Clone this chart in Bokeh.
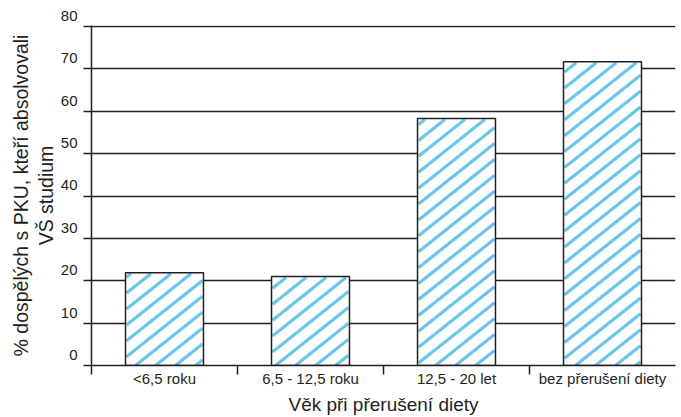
import numpy as np
from bokeh.plotting import figure
from bokeh.models import FixedTicker, Range1d
from bokeh.embed import file_html
from bokeh.resources import INLINE

# ---- data ----
categories = ["<6,5 roku", "6,5 - 12,5 roku", "12,5 - 20 let", "bez přerušení diety"]
values = [21.9, 21.0, 58.3, 71.7]
y_ticks = [0, 10, 20, 30, 40, 50, 60, 70, 80]
y_tick_labels = ["0", "10", "20", "30", "40", "50", "60", "70", "80"]
x_title = "Věk při přerušení diety"
y_title = "% dospělých s PKU, kteří absolvovali\nVŠ studium"

# ---- style / layout ----
FONT = "Liberation Sans"
INK = "#231f20"
BLUE = "#6cc5ee"
W, H = 681, 417
B_LEFT, B_RIGHT, B_TOP, B_BOTTOM = 91, 6, 25, 50
BAR_W = 0.534
Y_END = y_ticks[-1] + 0.25   # tiny headroom so the top grid line is drawn

n = len(categories)
x = np.arange(n) + 0.5

p = figure(width=W, height=H, output_backend="svg", toolbar_location=None,
           x_range=Range1d(0, n), y_range=Range1d(0, Y_END),
           min_border_left=B_LEFT, min_border_top=B_TOP,
           min_border_bottom=B_BOTTOM, min_border_right=B_RIGHT)
p.outline_line_color = None
p.background_fill_color = "white"
p.border_fill_color = "white"

# bars: white fill
p.vbar(x=x, top=values, width=BAR_W, bottom=0, fill_color="white", line_color=None)

# diagonal stripe hatching, computed inside each bar (screen-space angle/spacing)
frame_w = W - B_LEFT - B_RIGHT
frame_h = H - B_TOP - B_BOTTOM
px_x = frame_w / n          # pixels per x unit
px_y = frame_h / Y_END      # pixels per y unit
slope, gap, inset = 0.80, 20.0, 1.0
sx0, sy0, sx1, sy1 = [], [], [], []
for xc, top in zip(x, values):
    X0 = (xc - BAR_W / 2) * px_x + inset
    X1 = (xc + BAR_W / 2) * px_x - inset
    Hh = top * px_y - inset
    k0 = int(np.floor((X0 - Hh / slope) / gap)) - 1
    k1 = int(np.ceil(X1 / gap)) + 1
    for k in range(k0, k1 + 1):
        xs = k * gap + 4
        xa = max(X0, xs)
        xb = min(X1, xs + Hh / slope)
        if xb - xa > 0.5:
            sx0.append(xa / px_x); sy0.append(slope * (xa - xs) / px_y)
            sx1.append(xb / px_x); sy1.append(slope * (xb - xs) / px_y)
p.segment(x0=sx0, y0=sy0, x1=sx1, y1=sy1, line_color=BLUE, line_width=3.2,
          line_cap="butt")

# bar outlines
p.vbar(x=x, top=values, width=BAR_W, bottom=0, fill_color=None,
       line_color=INK, line_width=1.5)

# grid
p.xgrid.visible = False
p.ygrid.ticker = FixedTicker(ticks=y_ticks)
p.ygrid.grid_line_color = INK
p.ygrid.grid_line_width = 1.5

# y axis: labels sit above their grid lines (second, empty text line lifts them)
ya = p.yaxis[0]
ya.ticker = FixedTicker(ticks=y_ticks, minor_ticks=[])
ya.major_label_overrides = {v: t + "\n " for v, t in zip(y_ticks, y_tick_labels)}
ya.axis_line_color = INK
ya.axis_line_width = 1.5
ya.major_tick_line_color = INK
ya.major_tick_line_width = 1.5
ya.major_tick_out = 8
ya.major_tick_in = 0
ya.minor_tick_out = 0
ya.minor_tick_in = 0
ya.major_label_standoff = 6
ya.major_label_text_font = FONT
ya.major_label_text_font_size = "15px"
ya.major_label_text_line_height = 1.3
ya.major_label_text_color = INK
ya.axis_label = y_title
ya.axis_label_text_font = FONT
ya.axis_label_text_font_size = "19.5px"
ya.axis_label_text_font_style = "normal"
ya.axis_label_text_color = INK
ya.axis_label_text_line_height = 1.15
ya.axis_label_standoff = 1

# x axis
xa = p.xaxis[0]
xa.ticker = FixedTicker(ticks=[float(v) for v in x], minor_ticks=list(range(n)))
xa.major_label_overrides = {float(v): c for v, c in zip(x, categories)}
xa.axis_line_color = INK
xa.axis_line_width = 1.5
xa.major_tick_out = 0
xa.major_tick_in = 0
xa.minor_tick_out = 9
xa.minor_tick_in = 0
xa.minor_tick_line_color = INK
xa.minor_tick_line_width = 1.5
xa.major_label_standoff = -5
xa.major_label_text_font = FONT
xa.major_label_text_font_size = "15px"
xa.major_label_text_color = INK
xa.axis_label = x_title
xa.axis_label_text_font = FONT
xa.axis_label_text_font_size = "19px"
xa.axis_label_text_font_style = "normal"
xa.axis_label_text_color = INK
xa.axis_label_standoff = 4

open("out.html", "w").write(file_html(p, INLINE))
